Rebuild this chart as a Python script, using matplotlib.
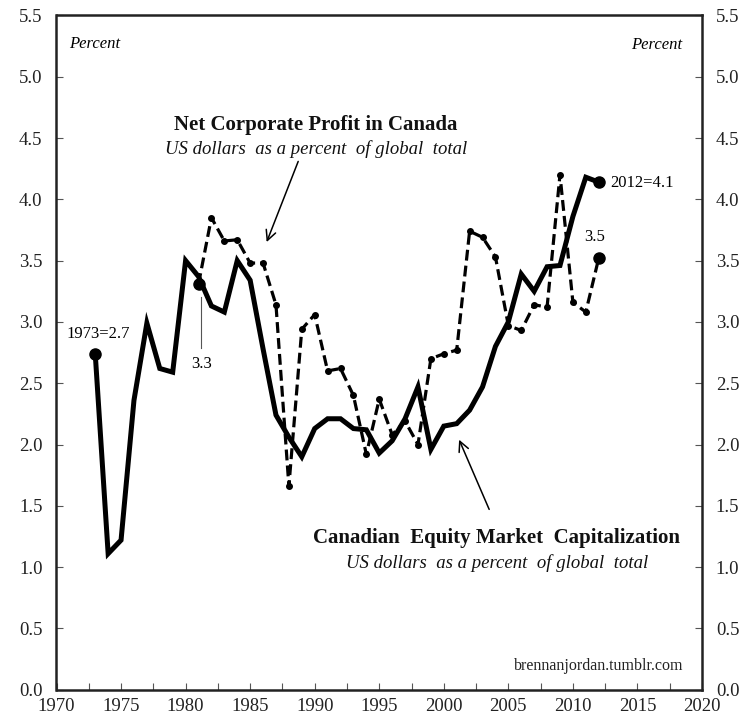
import matplotlib
matplotlib.use("Agg")
import matplotlib.pyplot as plt
import numpy as np

# Canadian equity market capitalization (% of global total), 1973-2012
equity_years = list(range(1973, 2013))
equity_values = [2.74, 1.11, 1.22, 2.36, 2.99, 2.62, 2.59, 3.50, 3.37, 3.13,
                 3.08, 3.50, 3.34, 2.78, 2.24, 2.06, 1.90, 2.13, 2.21, 2.21,
                 2.13, 2.12, 1.93, 2.03, 2.21, 2.47, 1.96, 2.15, 2.17, 2.28,
                 2.47, 2.80, 3.00, 3.39, 3.25, 3.45, 3.46, 3.86, 4.18, 4.14]

# Net corporate profit in Canada (% of global total), 1981-2012
profit_years = list(range(1981, 2013))
profit_values = [3.31, 3.85, 3.66, 3.67, 3.48, 3.48, 3.14, 1.66, 2.94, 3.06,
                 2.60, 2.62, 2.40, 1.92, 2.37, 2.08, 2.19, 2.00, 2.70, 2.74,
                 2.77, 3.74, 3.69, 3.53, 2.97, 2.93, 3.14, 3.12, 4.20, 3.16,
                 3.08, 3.52]

x_ticks_major = [1970, 1975, 1980, 1985, 1990, 1995, 2000, 2005, 2010, 2015, 2020]
y_ticks = [0.0, 0.5, 1.0, 1.5, 2.0, 2.5, 3.0, 3.5, 4.0, 4.5, 5.0, 5.5]

SERIF = ["Liberation Serif", "DejaVu Serif"]
plt.rcParams["font.family"] = SERIF

fig = plt.figure(figsize=(7.46, 7.23), dpi=100)
ax = fig.add_axes([56.5 / 746, 33.3 / 723, 645.5 / 746, 674.3 / 723])

# Profit (dashed with small dots)
ax.plot(profit_years, profit_values, color="black", lw=2.3,
        linestyle=(0, (3.4, 1.6)), marker="o", markersize=4.0, zorder=3)
# Equity (solid thick)
ax.plot(equity_years, equity_values, color="black", lw=3.6,
        solid_joinstyle="miter", zorder=4)

# end-point dots
ax.plot([equity_years[0]], [equity_values[0]], "o", color="black", ms=8, zorder=5)
ax.plot([equity_years[-1]], [equity_values[-1]], "o", color="black", ms=8, zorder=5)
ax.plot([profit_years[0]], [profit_values[0]], "o", color="black", ms=8, zorder=5)
ax.plot([profit_years[-1]], [profit_values[-1]], "o", color="black", ms=8, zorder=5)

ax.set_xlim(1970, 2020)
ax.set_ylim(0, 5.5)

ax.set_xticks(np.arange(1970, 2020.1, 2.5), minor=True)
ax.set_xticks(x_ticks_major)
ax.set_xticklabels([str(v) for v in x_ticks_major])
ax.set_yticks(y_ticks)
ax.set_yticklabels([f"{v:.1f}" for v in y_ticks])

ax.tick_params(axis="both", which="both", direction="in", color="#555555",
               width=0.8, labelsize=13.5, labelcolor="#222222")
ax.tick_params(axis="x", which="major", length=5, pad=6)
ax.tick_params(axis="x", which="minor", length=5)
ax.tick_params(axis="y", which="major", length=5, pad=10,
               left=True, right=True, labelleft=True, labelright=True)

for s in ax.spines.values():
    s.set_color("#222222")
    s.set_linewidth(1.8)

# text annotations
ax.text(1971.0, 5.27, "Percent", style="italic", fontsize=12, ha="left", va="center")
ax.text(2018.5, 5.26, "Percent", style="italic", fontsize=12, ha="right", va="center")

ax.text(1990.1, 4.61, "Net Corporate Profit in Canada", fontsize=15,
        fontweight="bold", ha="center", va="center", color="#111111")
ax.text(1990.1, 4.41, "US dollars  as a percent  of global  total", fontsize=13.5,
        style="italic", ha="center", va="center", color="#111111")
ax.annotate("", xy=(1986.2, 3.63), xytext=(1988.8, 4.33),
            arrowprops=dict(arrowstyle="->", color="black", lw=1.1,
                            mutation_scale=18))

ax.text(2004.1, 1.24, "Canadian  Equity Market  Capitalization", fontsize=15,
        fontweight="bold", ha="center", va="center", color="#111111")
ax.text(2004.1, 1.03, "US dollars  as a percent  of global  total", fontsize=13.5,
        style="italic", ha="center", va="center", color="#111111")
ax.annotate("", xy=(2001.1, 2.06), xytext=(2003.6, 1.45),
            arrowprops=dict(arrowstyle="->", color="black", lw=1.1,
                            mutation_scale=18))

ax.text(1973.2, 2.90, "1973=2.7", fontsize=12, ha="center", va="center")
ax.plot([1981.2, 1981.2], [3.2, 2.79], color="#555555", lw=0.8)
ax.text(1981.2, 2.66, "3.3", fontsize=12, ha="center", va="center")
ax.text(2012.9, 4.13, "2012=4.1", fontsize=12, ha="left", va="center")
ax.text(2011.7, 3.69, "3.5", fontsize=12, ha="center", va="center")

ax.text(2018.6, 0.19, "brennanjordan.tumblr.com", fontsize=11.5,
        ha="right", va="center", color="#222222")

fig.savefig("out.png", dpi=100)
